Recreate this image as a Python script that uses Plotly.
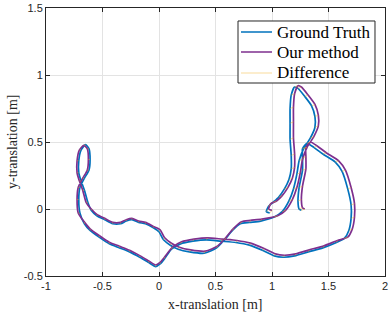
import plotly.graph_objects as go

# Ground truth trajectory
gt_x = [0.98, 0.95, 0.97, 1.01, 1.06, 1.11, 1.15, 1.17, 1.17, 1.16, 1.16, 1.16, 1.17, 1.20, 1.23, 1.29, 1.35, 1.38, 1.38, 1.34,
        1.28, 1.24, 1.22, 1.19, 1.15, 1.09, 1.02, 0.90, 0.80, 0.72, 0.65, 0.58, 0.51, 0.40, 0.27, 0.17, 0.10, 0.04, 0.00, -0.05,
        -0.12, -0.18, -0.24, -0.29, -0.34, -0.41, -0.48, -0.55, -0.60, -0.63, -0.66, -0.69, -0.71, -0.71, -0.69, -0.65, -0.62, -0.61, -0.62, -0.66,
        -0.70, -0.71, -0.70, -0.66, -0.61, -0.53, -0.44, -0.35, -0.26, -0.17, -0.09, -0.03, 0.01, 0.05, 0.11, 0.19, 0.30, 0.42, 0.55, 0.68,
        0.80, 0.92, 1.02, 1.10, 1.20, 1.32, 1.45, 1.57, 1.64, 1.68, 1.70, 1.70, 1.67, 1.62, 1.56, 1.45, 1.37, 1.31, 1.27, 1.27,
        1.27, 1.24, 1.23, 1.24, 1.26]
gt_y = [-0.03, -0.02, 0.02, 0.05, 0.09, 0.15, 0.22, 0.30, 0.40, 0.52, 0.64, 0.75, 0.85, 0.91, 0.90, 0.84, 0.77, 0.69, 0.61, 0.53,
        0.45, 0.36, 0.26, 0.15, 0.06, -0.02, -0.06, -0.09, -0.10, -0.11, -0.16, -0.23, -0.29, -0.33, -0.32, -0.30, -0.27, -0.23, -0.17, -0.14,
        -0.11, -0.10, -0.08, -0.09, -0.11, -0.11, -0.08, -0.05, -0.01, 0.05, 0.14, 0.21, 0.27, 0.36, 0.44, 0.48, 0.45, 0.37, 0.29, 0.23,
        0.16, 0.07, -0.03, -0.11, -0.16, -0.21, -0.26, -0.29, -0.32, -0.36, -0.40, -0.43, -0.41, -0.37, -0.30, -0.26, -0.24, -0.23, -0.24, -0.25,
        -0.27, -0.31, -0.35, -0.36, -0.35, -0.32, -0.29, -0.25, -0.22, -0.16, -0.07, 0.03, 0.15, 0.28, 0.35, 0.41, 0.46, 0.49, 0.45, 0.38,
        0.29, 0.16, 0.06, 0.00, -0.01]

# Estimated trajectory ("Our method")
est_x = [1.00, 0.97, 0.99,
         1.04, 1.09, 1.14, 1.18, 1.20, 1.20, 1.19, 1.19, 1.19, 1.20, 1.23, 1.26, 1.32, 1.38, 1.41, 1.41, 1.37, 1.31, 1.27, 1.25, 1.22, 1.18, 1.12, 1.05,
         0.91, 0.81, 0.73, 0.66, 0.59, 0.52, 0.41, 0.28, 0.18, 0.11, 0.05, 0.01,
         -0.05, -0.12, -0.18, -0.24, -0.29, -0.34, -0.41, -0.48, -0.55, -0.60,
         -0.645, -0.675, -0.705, -0.725, -0.725, -0.705, -0.665, -0.635, -0.625, -0.635, -0.675, -0.715, -0.725, -0.715,
         -0.66, -0.61, -0.53, -0.44, -0.35, -0.26, -0.17, -0.09, -0.03, 0.01, 0.05,
         0.12, 0.20, 0.31, 0.43, 0.56, 0.69, 0.81, 0.93, 1.03, 1.11, 1.21, 1.33, 1.46, 1.58,
         1.67, 1.71, 1.73, 1.73, 1.70, 1.65, 1.59, 1.48, 1.40, 1.34, 1.30, 1.30, 1.30, 1.27, 1.26, 1.27, 1.29]
est_y = [-0.01, 0.00, 0.04,
         0.06, 0.10, 0.16, 0.23, 0.31, 0.41, 0.53, 0.65, 0.76, 0.86, 0.92, 0.91, 0.85, 0.78, 0.70, 0.62, 0.54, 0.46, 0.37, 0.27, 0.16, 0.07, -0.01, -0.05,
         -0.075, -0.085, -0.095, -0.145, -0.215, -0.275, -0.315, -0.305, -0.285, -0.255, -0.215, -0.155,
         -0.13, -0.10, -0.09, -0.07, -0.08, -0.10, -0.10, -0.07, -0.04, 0.00,
         0.05, 0.14, 0.21, 0.27, 0.36, 0.44, 0.475, 0.45, 0.37, 0.29, 0.23, 0.16, 0.07, -0.03,
         -0.098, -0.148, -0.198, -0.248, -0.278, -0.308, -0.348, -0.388, -0.418, -0.398, -0.358,
         -0.285, -0.245, -0.225, -0.215, -0.225, -0.235, -0.255, -0.295, -0.335, -0.345, -0.335, -0.305, -0.275, -0.235,
         -0.21, -0.15, -0.06, 0.04, 0.16, 0.29, 0.36, 0.42, 0.47, 0.50, 0.46, 0.39, 0.30, 0.17, 0.07, 0.01, 0.00]

x_ticks = [-1, -0.5, 0, 0.5, 1, 1.5, 2]
x_tick_text = ["-1", "-0.5", "0", "0.5", "1", "1.5", "2"]
y_ticks = [-0.5, 0, 0.5, 1, 1.5]
y_tick_text = ["-0.5", "0", "0.5", "1", "1.5"]

x_title = "x-translation [m]"
y_title = "y-translation [m]"
series_names = ["Ground Truth", "Our method", "Difference"]
series_colors = ["#0072BD", "#7E2F8E", "rgba(237,177,32,0.45)"]

# difference segments GT -> estimate
diff_x, diff_y = [], []
for gx, gy, ex, ey in zip(gt_x, gt_y, est_x, est_y):
    diff_x += [gx, ex, None]
    diff_y += [gy, ey, None]

fig = go.Figure()
fig.add_trace(go.Scatter(x=gt_x, y=gt_y, mode="lines", name=series_names[0],
                         line=dict(color=series_colors[0], width=1.7, shape="spline", smoothing=0.6)))
fig.add_trace(go.Scatter(x=est_x, y=est_y, mode="lines", name=series_names[1],
                         line=dict(color=series_colors[1], width=1.7, shape="spline", smoothing=0.6)))
fig.add_trace(go.Scatter(x=diff_x, y=diff_y, mode="lines", name=series_names[2],
                         line=dict(color=series_colors[2], width=1)))

axis_common = dict(showline=True, linecolor="#262626", linewidth=1, mirror="ticks",
                   ticks="inside", ticklen=4, tickcolor="#262626", automargin=False,
                   showgrid=True, gridcolor="#e3e3e3", gridwidth=1, zeroline=False,
                   tickfont=dict(family="Liberation Sans", size=11, color="#262626"))

# manual legend (MATLAB style) in paper coordinates
shapes = [dict(type="rect", xref="paper", yref="paper", x0=0.5664, x1=0.9705, y0=0.7201, y1=0.9515,
               line=dict(color="#262626", width=1), fillcolor="white", layer="above")]
annotations = []
row_y = [0.9104, 0.8358, 0.7575]
for name, color, ry in zip(series_names, series_colors, row_y):
    shapes.append(dict(type="line", xref="paper", yref="paper", x0=0.5752, x1=0.6667, y0=ry, y1=ry,
                       line=dict(color=color if name != "Difference" else "rgba(237,177,32,0.3)",
                                 width=1.7), layer="above"))
    annotations.append(dict(xref="paper", yref="paper", x=0.6755, y=ry, xanchor="left", yanchor="middle",
                            text=name, showarrow=False,
                            font=dict(family="Liberation Serif", size=17, color="black")))

# axis titles
annotations.append(dict(xref="paper", yref="paper", x=0.4985, y=-0.108, xanchor="center", yanchor="middle",
                        text=x_title, showarrow=False,
                        font=dict(family="Liberation Serif", size=14, color="#262626")))
annotations.append(dict(xref="paper", yref="paper", x=-0.1003, y=0.5, xanchor="center", yanchor="middle",
                        text=y_title, showarrow=False, textangle=-90,
                        font=dict(family="Liberation Serif", size=14, color="#262626")))

fig.update_layout(
    width=391, height=312,
    margin=dict(l=46, r=6, t=8, b=36),
    paper_bgcolor="white", plot_bgcolor="white",
    xaxis=dict(range=[-1, 2], tickvals=x_ticks, ticktext=x_tick_text, **axis_common),
    yaxis=dict(range=[-0.5, 1.5], tickvals=y_ticks, ticktext=y_tick_text, **axis_common),
    shapes=shapes,
    annotations=annotations,
    showlegend=False,
)

fig.write_html("out.html", config={"displayModeBar": False},
               post_script="document.body.style.margin='0';document.body.style.overflow='hidden';")
